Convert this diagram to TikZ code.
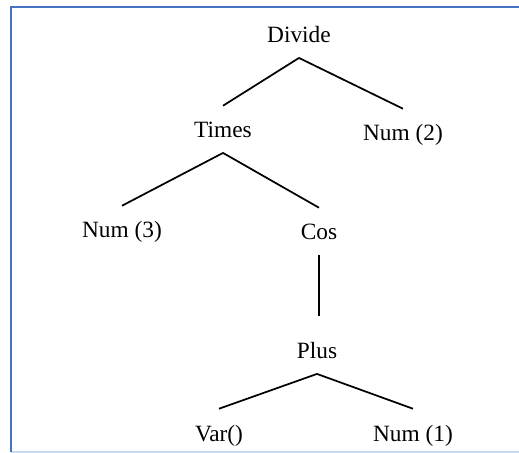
\documentclass[tikz,border=0pt]{standalone}
\usepackage{fontspec}
\setmainfont{Liberation Serif}
\usepackage{xcolor}
\usepackage{tikz}

\definecolor{frameblue}{RGB}{68,114,196}
\definecolor{framelight}{RGB}{197,217,241}

\begin{document}
\begin{tikzpicture}[
  x=0.75pt, y=-0.75pt,
  term/.style={anchor=base, inner xsep=2pt, inner ysep=6pt, text height=18pt, text depth=5pt, font=\fontsize{17.5pt}{21pt}\selectfont},
  branch/.style={line width=1.3pt},
  edgeline/.style={line width=1.6pt, frameblue}]
  \useasboundingbox (0,0) rectangle (519,453);
  % frame
  \coordinate (tl) at (11,7);
  \coordinate (tr) at (519,7);
  \coordinate (bl) at (11,452);
  \coordinate (br) at (519,452);
  \draw[framelight, line width=1.2pt] (bl) -- (br);
  \draw[edgeline] (tr) -- (tl) -- (bl);
  % tree
  \node[term] (divide) at (299,43) {Divide};
  \node[term] (times) at (223,138) {Times};
  \node[term] (num2) at (403,141) {Num (2)};
  \node[term] (num3) at (122,238) {Num (3)};
  \node[term] (cos) at (319,240) {Cos};
  \node[term] (plus) at (317,359) {Plus};
  \node[term] (var) at (219,441) {Var()};
  \node[term] (num1) at (413,441) {Num (1)};
  \draw[branch] (divide.south) -- (times.north);
  \draw[branch] (divide.south) -- (num2.north);
  \draw[branch] (times.south) -- (num3.north);
  \draw[branch] (times.south) -- (cos.north);
  \draw[branch, shorten >=8pt] (cos.south) -- (cos.south |- plus.north);
  \draw[branch] (plus.south) -- (var.north);
  \draw[branch] (plus.south) -- (num1.north);
\end{tikzpicture}
\end{document}
